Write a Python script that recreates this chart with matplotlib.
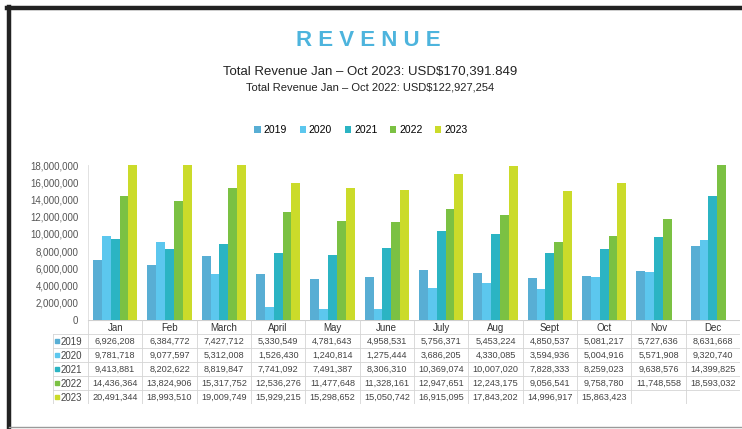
import numpy as np
import matplotlib
matplotlib.use("Agg")
import matplotlib.pyplot as plt
from matplotlib.patches import Patch
from matplotlib.lines import Line2D

plt.rcParams["font.family"] = ["Liberation Sans", "DejaVu Sans"]

months = ["Jan", "Feb", "March", "April", "May", "June", "July", "Aug", "Sept", "Oct", "Nov", "Dec"]
years = ["2019", "2020", "2021", "2022", "2023"]
rev_2019 = [6926208, 6384772, 7427712, 5330549, 4781643, 4958531, 5756371, 5453224, 4850537, 5081217, 5727636, 8631668]
rev_2020 = [9781718, 9077597, 5312008, 1526430, 1240814, 1275444, 3686205, 4330085, 3594936, 5004916, 5571908, 9320740]
rev_2021 = [9413881, 8202622, 8819847, 7741092, 7491387, 8306310, 10369074, 10007020, 7828333, 8259023, 9638576, 14399825]
rev_2022 = [14436364, 13824906, 15317752, 12536276, 11477648, 11328161, 12947651, 12243175, 9056541, 9758780, 11748558, 18593032]
rev_2023 = [20491344, 18993510, 19009749, 15929215, 15298652, 15050742, 16915095, 17843202, 14996917, 15863423, None, None]
series = [rev_2019, rev_2020, rev_2021, rev_2022, rev_2023]
colors = ["#58aed4", "#5cc7ee", "#2bb4c3", "#7bc143", "#cbdb2a"]

title = "R E V E N U E"
sub1 = "Total Revenue Jan \u2013 Oct 2023: USD$170,391.849"
sub2 = "Total Revenue Jan \u2013 Oct 2022: USD$122,927,254"

W, H = 742, 429
fig = plt.figure(figsize=(W / 100, H / 100), dpi=100)

# frame of the slide screenshot
fig.add_artist(Line2D([7 / W, 1], [1 - 8 / H] * 2, color="#222222", lw=3.2))
fig.add_artist(Line2D([9 / W] * 2, [0, 1 - 7 / H], color="#222222", lw=3.2))
fig.add_artist(Line2D([9 / W, 1], [1 - 427 / H] * 2, color="#9a9a9a", lw=1))

fig.text(368 / W, 1 - 40 / H, title, ha="center", va="center", fontsize=16,
         fontweight="bold", color="#4db4dd")
fig.text(370 / W, 1 - 72 / H, sub1, ha="center", va="center", fontsize=9.5, color="#222222")
fig.text(370 / W, 1 - 87 / H, sub2, ha="center", va="center", fontsize=8, color="#222222")

handles = [Patch(facecolor=c, edgecolor="none") for c in colors]
fig.legend(handles, years, loc="center", bbox_to_anchor=(361 / W, 1 - 130 / H), ncol=5,
           frameon=False, fontsize=7.5, handlelength=0.6, handleheight=0.6,
           handletextpad=0.3, columnspacing=1.2)

# bar chart
x0, x1 = 88, 740
ax = fig.add_axes([x0 / W, 1 - 320 / H, (x1 - x0) / W, 155 / H])
x = np.arange(len(months))
bw = 0.162
for i, (vals, c) in enumerate(zip(series, colors)):
    v = [np.nan if val is None else val for val in vals]
    ax.bar(x + (i - 2) * bw, v, width=bw, color=c, linewidth=0)
ax.set_xlim(-0.5, 11.5)
ax.set_ylim(0, 18000000)
ax.set_yticks(np.arange(0, 18000001, 2000000))
ax.set_yticklabels([f"{int(t):,}" for t in ax.get_yticks()], fontsize=7, color="#555555")
ax.tick_params(axis="y", length=0, pad=7)
ax.set_xticks([])
for s in ["top", "right", "bottom"]:
    ax.spines[s].set_visible(False)
ax.spines["left"].set_color("#dddddd")
ax.spines["left"].set_linewidth(0.6)

# data table under the chart
unit = (x1 - x0) / 12.0
tl = 53
left = -0.5 - (x0 - tl) / unit
tax = fig.add_axes([tl / W, 1 - 404 / H, (x1 - tl) / W, 84 / H])
tax.set_xlim(left, 11.5)
tax.set_ylim(6, 0)
tax.axis("off")
lc, lw = "#d4d4d4", 0.6
tax.plot([-0.5, 11.5], [0, 0], color="#cfcfcf", lw=0.8)
for r in range(1, 7):
    tax.plot([left, 11.5], [r, r], color=lc, lw=lw)
for b in np.arange(-0.5, 12.0, 1.0):
    tax.plot([b, b], [0, 6], color=lc, lw=lw)
tax.plot([left, left], [1, 6], color=lc, lw=lw)

for j, m in enumerate(months):
    tax.text(j, 0.55, m, ha="center", va="center", fontsize=7, color="#333333")
for r, (yr, vals, c) in enumerate(zip(years, series, colors)):
    tax.plot(left + 0.07, r + 1.5, marker="s", markersize=3.2, color=c, linestyle="none")
    tax.text(left + 0.13, r + 1.55, yr, ha="left", va="center", fontsize=7, color="#444444")
    for j, val in enumerate(vals):
        if val is not None:
            tax.text(j, r + 1.55, f"{val:,}", ha="center", va="center", fontsize=6.6,
                     color="#444444")

fig.savefig("out.png", dpi=100)
